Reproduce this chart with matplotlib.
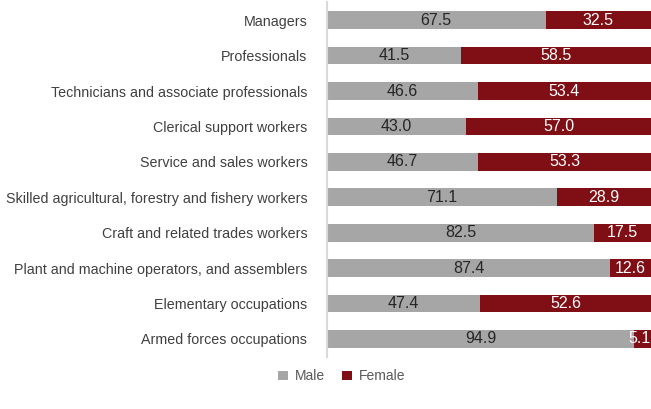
import numpy as np
import matplotlib.pyplot as plt

categories = [
    'Managers',
    'Professionals',
    'Technicians and associate professionals',
    'Clerical support workers',
    'Service and sales workers',
    'Skilled agricultural, forestry and fishery workers',
    'Craft and related trades workers',
    'Plant and machine operators, and assemblers',
    'Elementary occupations',
    'Armed forces occupations',
]
male = [67.5, 41.5, 46.6, 43.0, 46.7, 71.1, 82.5, 87.4, 47.4, 94.9]
female = [32.5, 58.5, 53.4, 57.0, 53.3, 28.9, 17.5, 12.6, 52.6, 5.1]

grey = '#A6A6A6'
red = '#7F0F14'

plt.rcParams['font.family'] = ['Liberation Sans', 'DejaVu Sans']

fig = plt.figure(figsize=(6.51, 4.09), dpi=100)
ax = fig.add_axes([0.502, 0.128, 0.498, 0.866])

y = np.arange(len(categories))
ax.barh(y, male, height=0.5, color=grey, label='Male')
ax.barh(y, female, left=male, height=0.5, color=red, label='Female')

for i in range(len(categories)):
    ax.text(male[i] / 2, y[i], f'{male[i]:.1f}', ha='center', va='center',
            fontsize=11.5, color='#262626')
    fx = male[i] + female[i] / 2
    if female[i] < 8:
        # label is wider than the tiny segment, keep it inside the figure
        fx = 100 - 3.4
    ax.text(fx, y[i], f'{female[i]:.1f}', ha='center', va='center',
            fontsize=11.5, color='white')

ax.set_xlim(0, 100)
ax.set_ylim(len(categories) - 0.5, -0.5)
ax.set_yticks(y)
ax.set_yticklabels(categories, fontsize=10.3, color='#404040')
ax.tick_params(axis='y', length=0, pad=14)
ax.set_xticks([])
for s in ['top', 'right', 'bottom']:
    ax.spines[s].set_visible(False)
ax.spines['left'].set_color('#D9D9D9')
ax.spines['left'].set_linewidth(1.5)

fig.legend(loc='center', bbox_to_anchor=(0.525, 0.08), ncol=2, frameon=False,
           fontsize=10, handlelength=0.7, handleheight=0.7, columnspacing=1.2,
           handletextpad=0.5, labelcolor='#595959')

plt.savefig('out.png', dpi=100)
plt.close()
